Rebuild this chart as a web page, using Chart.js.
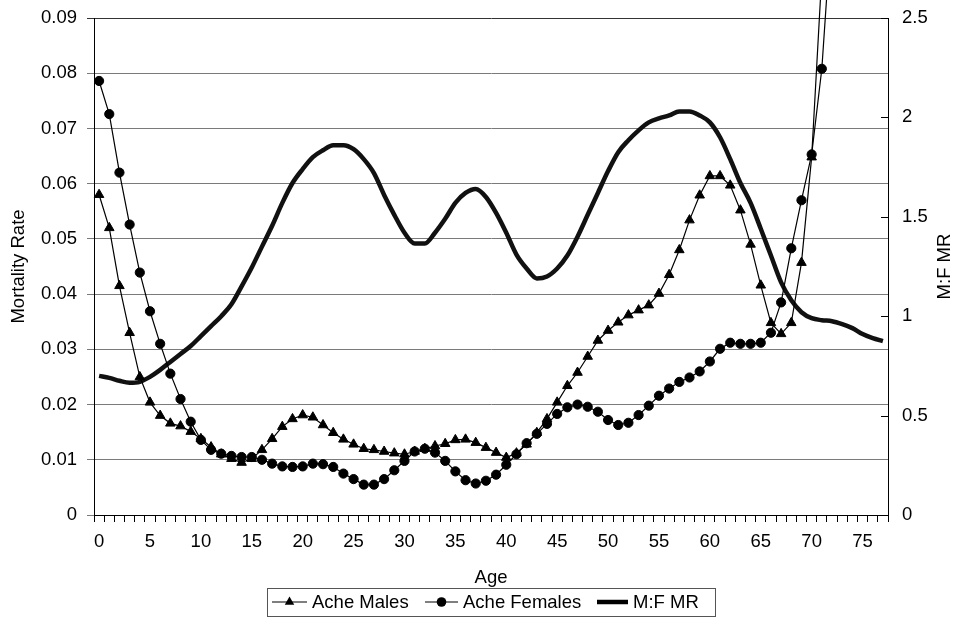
<!DOCTYPE html>
<html>
<head>
<meta charset="utf-8">
<script src="https://cdn.jsdelivr.net/npm/chart.js@4.4.1/dist/chart.umd.min.js"></script>
<style>
html,body{margin:0;padding:0;background:#fff;}
#wrap{width:955px;height:617px;position:relative;}
</style>
</head>
<body>
<div id="wrap"><canvas id="c" width="955" height="617"></canvas></div>
<script>
// ---- Data ----
const ages = ['0','1','2','3','4','5','6','7','8','9','10','11','12','13','14','15','16','17','18','19',
  '20','21','22','23','24','25','26','27','28','29','30','31','32','33','34','35','36','37','38','39',
  '40','41','42','43','44','45','46','47','48','49','50','51','52','53','54','55','56','57','58','59',
  '60','61','62','63','64','65','66','67','68','69','70','71','72','73','74','75','76','77'];

const xTickLabels = ['0','5','10','15','20','25','30','35','40','45','50','55','60','65','70','75'];

const acheMales = [0.058,0.052,0.0415,0.033,0.025,0.0204,0.018,0.0166,0.0161,0.0151,
  0.0138,0.0123,0.011,0.0102,0.0095,0.0102,0.0118,0.0138,0.016,0.0174,
  0.0181,0.0177,0.0163,0.0149,0.0137,0.0128,0.012,0.0118,0.0115,0.0112,
  0.011,0.0115,0.012,0.0125,0.0129,0.0136,0.0137,0.0131,0.0122,0.0113,
  0.0104,0.0112,0.0128,0.0149,0.0174,0.0204,0.0234,0.0258,0.0287,0.0316,
  0.0334,0.0349,0.0362,0.0371,0.038,0.0401,0.0435,0.048,0.0534,0.0579,
  0.0614,0.0614,0.0597,0.0552,0.049,0.0416,0.0348,0.0328,0.0348,0.0457,
  0.0648,0.098,null,null,null,null,null,null];

const acheFemales = [0.0786,0.0726,0.062,0.0526,0.0439,0.0369,0.031,0.0256,0.021,0.0169,
  0.0136,0.0118,0.0111,0.0107,0.0105,0.0105,0.0100,0.0093,0.0088,0.0087,
  0.0088,0.0093,0.0092,0.0087,0.0075,0.0065,0.0055,0.0055,0.0065,0.0081,
  0.0098,0.0115,0.012,0.0113,0.0098,0.0079,0.0063,0.0057,0.0062,0.0073,
  0.0091,0.011,0.013,0.0147,0.0165,0.0183,0.0195,0.02,0.0196,0.0187,
  0.0172,0.0163,0.0167,0.0181,0.0198,0.0216,0.0229,0.0241,0.0249,0.026,
  0.0278,0.0301,0.0312,0.031,0.031,0.0312,0.033,0.0385,0.0483,0.057,
  0.0653,0.0808,0.108,null,null,null,null,null];

const mfRatio = [0.70,0.69,0.675,0.665,0.67,0.695,0.73,0.77,0.81,0.85,
  0.90,0.95,1.0,1.06,1.15,1.245,1.35,1.455,1.57,1.67,
  1.74,1.80,1.835,1.86,1.86,1.84,1.79,1.72,1.61,1.51,
  1.42,1.366,1.366,1.42,1.49,1.57,1.62,1.64,1.60,1.52,
  1.42,1.31,1.24,1.19,1.20,1.24,1.305,1.40,1.51,1.62,
  1.73,1.825,1.885,1.935,1.975,1.995,2.01,2.03,2.03,2.01,
  1.975,1.90,1.79,1.67,1.57,1.44,1.305,1.17,1.08,1.02,
  0.99,0.98,0.975,0.96,0.94,0.91,0.89,0.875];

const FONT = "'Liberation Sans', Arial, sans-serif";
const FS = 18.5;
Chart.defaults.font.family = FONT;
Chart.defaults.font.size = FS;
Chart.defaults.color = '#000';

const decor = {
  id: 'decor',
  afterDraw(chart) {
    const ctx = chart.ctx;
    const y2 = chart.scales.y2;
    const area = chart.chartArea;
    ctx.save();
    // inner tick marks on right axis
    ctx.strokeStyle = '#000';
    ctx.lineWidth = 1;
    y2.ticks.forEach((t) => {
      const py = Math.round(y2.getPixelForValue(t.value)) + 0.5;
      ctx.beginPath();
      ctx.moveTo(area.right - 7, py);
      ctx.lineTo(area.right, py);
      ctx.stroke();
    });
    // axis titles
    ctx.fillStyle = '#000';
    ctx.font = FS + 'px ' + FONT;
    ctx.textAlign = 'center';
    ctx.textBaseline = 'middle';
    ctx.save();
    ctx.translate(19, (area.top + area.bottom) / 2);
    ctx.rotate(-Math.PI / 2);
    ctx.fillText('Mortality Rate', 0, 0);
    ctx.restore();
    ctx.save();
    ctx.translate(945, (area.top + area.bottom) / 2);
    ctx.rotate(-Math.PI / 2);
    ctx.fillText('M:F MR', 0, 0);
    ctx.restore();
    ctx.textBaseline = 'alphabetic';
    ctx.fillText('Age', (area.left + area.right) / 2, 583);

    // legend
    const ly = 602;
    ctx.strokeStyle = '#555';
    ctx.lineWidth = 1;
    ctx.strokeRect(267.5, 588.5, 448, 28);
    ctx.strokeStyle = '#000';
    ctx.fillStyle = '#000';
    // males
    ctx.lineWidth = 1.2;
    ctx.beginPath(); ctx.moveTo(272, ly); ctx.lineTo(307, ly); ctx.stroke();
    const tx = 289.5, r = 5.5;
    ctx.beginPath();
    ctx.moveTo(tx, ly - r);
    ctx.lineTo(tx + r * 0.866, ly + r * 0.5);
    ctx.lineTo(tx - r * 0.866, ly + r * 0.5);
    ctx.closePath(); ctx.fill();
    // females
    ctx.beginPath(); ctx.moveTo(425, ly); ctx.lineTo(458, ly); ctx.stroke();
    ctx.beginPath(); ctx.arc(441.5, ly, 4.8, 0, Math.PI * 2); ctx.fill();
    // MR
    ctx.lineWidth = 4.5;
    ctx.beginPath(); ctx.moveTo(597, ly); ctx.lineTo(628, ly); ctx.stroke();
    ctx.textAlign = 'left';
    ctx.textBaseline = 'middle';
    ctx.fillText('Ache Males', 312, ly + 1);
    ctx.fillText('Ache Females', 463, ly + 1);
    ctx.fillText('M:F MR', 633, ly + 1);
    ctx.restore();
  }
};

function noPad(s) { s.paddingTop = 0; s.paddingBottom = 0; }

new Chart(document.getElementById('c'), {
  type: 'line',
  data: {
    labels: ages,
    datasets: [
      {
        label: 'Ache Males',
        data: acheMales,
        yAxisID: 'y',
        borderColor: '#000',
        backgroundColor: '#000',
        borderWidth: 1.2,
        pointStyle: 'triangle',
        pointRadius: 5.5,
        pointBorderWidth: 1,
        pointBackgroundColor: '#000',
        pointBorderColor: '#000',
        tension: 0,
        order: 1,
        clip: {left: 6, right: 6, top: false, bottom: 6}
      },
      {
        label: 'Ache Females',
        data: acheFemales,
        yAxisID: 'y',
        borderColor: '#000',
        backgroundColor: '#000',
        borderWidth: 1.2,
        pointStyle: 'circle',
        pointRadius: 4.6,
        pointBorderWidth: 1,
        pointBackgroundColor: '#000',
        pointBorderColor: '#000',
        tension: 0,
        order: 2,
        clip: {left: 6, right: 6, top: false, bottom: 6}
      },
      {
        label: 'M:F MR',
        data: mfRatio,
        yAxisID: 'y2',
        borderColor: '#111',
        borderWidth: 4.5,
        pointRadius: 0,
        cubicInterpolationMode: 'monotone',
        order: 3
      }
    ]
  },
  options: {
    responsive: false,
    animation: false,
    events: [],
    layout: { padding: { top: 18, left: 0, right: 0, bottom: 0 } },
    plugins: { legend: { display: false }, tooltip: { enabled: false } },
    scales: {
      x: {
        type: 'category',
        offset: true,
        afterFit(s) { s.height = 102; s.paddingLeft = 0; s.paddingRight = 0; },
        grid: { display: true, drawOnChartArea: false, drawTicks: true, tickLength: 7, offset: true, color: '#000' },
        border: { display: true, color: '#000', width: 1 },
        ticks: {
          autoSkip: false, maxRotation: 0, minRotation: 0, padding: 9,
          callback(v, i) { const l = ages[i]; return xTickLabels.includes(l) ? l : ''; }
        }
      },
      y: {
        position: 'left',
        min: 0, max: 0.09,
        afterFit(s) { s.width = 94; noPad(s); },
        grid: {
          color(c) { return c.index === 9 ? '#333' : '#7a7a7a'; },
          lineWidth: 1, drawTicks: true, tickLength: 7
        },
        border: { display: true, color: '#000', width: 1 },
        ticks: {
          stepSize: 0.01, padding: 10,
          callback(v) { return v === 0 ? '0' : v.toFixed(2); }
        }
      },
      y2: {
        position: 'right',
        min: 0, max: 2.5,
        afterFit(s) { s.width = 67; noPad(s); },
        grid: { display: false, drawOnChartArea: false, drawTicks: false },
        border: { display: true, color: '#000', width: 1 },
        ticks: {
          stepSize: 0.5, padding: 14,
          callback(v) { return String(Math.round(v * 10) / 10); }
        }
      }
    }
  },
  plugins: [decor]
});
</script>
</body>
</html>
